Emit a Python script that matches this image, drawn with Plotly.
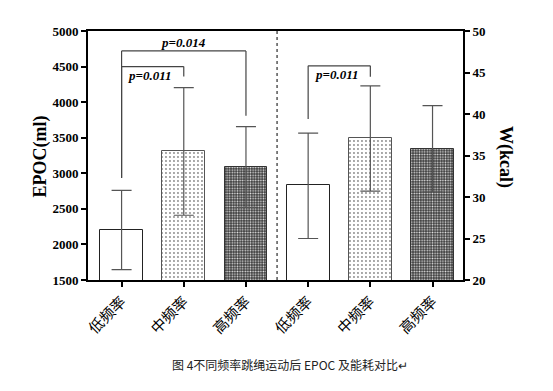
import plotly.graph_objects as go

# ---- data ----
categories = ["低频率", "中频率", "高频率", "低频率", "中频率", "高频率"]
epoc_mean = [2200, 3310, 3085]
epoc_err_up = [560, 895, 570]
epoc_err_down = [555, 900, 565]
w_mean = [31.4, 37.1, 35.8]
w_err_up = [6.3, 6.3, 5.2]
w_err_down = [6.4, 6.4, 5.2]
left_ticks = [1500, 2000, 2500, 3000, 3500, 4000, 4500, 5000]
right_ticks = [20, 25, 30, 35, 40, 45, 50]

# significance brackets: (x_left, x_right, y_left_end, y_top, y_right_end, label, axis)
brackets = [
    (0, 1, 2935, 4500, 4360, "p=0.011", "y"),
    (0, 2, 2935, 4720, 3810, "p=0.014", "y"),
    (3, 4, 39.4, 45.8, 44.5, "p=0.011", "y2"),
]

SERIF = "Liberation Serif"
CJK = "Noto Sans CJK SC"

styles = [
    dict(shape="", fg="#000", bg="#ffffff", line="#222", size=4, sol=0.3),
    dict(shape=".", fg="#8a8a8a", bg="#ffffff", line="#555", size=4, sol=0.18),
    dict(shape=".", fg="#e0e0e0", bg="#3a3a3a", line="#333", size=2.6, sol=0.35),
]

fig = go.Figure()
for i in range(3):
    st = styles[i]
    fig.add_trace(go.Bar(
        x=[i], y=[epoc_mean[i]], yaxis="y", width=0.69,
        marker=dict(color="white", line=dict(color=st["line"], width=1),
                    pattern=dict(shape=st["shape"], fgcolor=st["fg"], bgcolor=st["bg"],
                                 size=st["size"], solidity=st["sol"], fillmode="replace")),
        error_y=dict(type="data", array=[epoc_err_up[i]], arrayminus=[epoc_err_down[i]],
                     color="#555", thickness=1.2, width=10),
        showlegend=False))
for i in range(3):
    st = styles[i]
    fig.add_trace(go.Bar(
        x=[i + 3], y=[w_mean[i]], yaxis="y2", width=0.69,
        marker=dict(color="white", line=dict(color=st["line"], width=1),
                    pattern=dict(shape=st["shape"], fgcolor=st["fg"], bgcolor=st["bg"],
                                 size=st["size"], solidity=st["sol"], fillmode="replace")),
        error_y=dict(type="data", array=[w_err_up[i]], arrayminus=[w_err_down[i]],
                     color="#555", thickness=1.2, width=10),
        showlegend=False))

shapes = [dict(type="line", xref="x", yref="paper", x0=2.5, x1=2.5, y0=0, y1=1,
               line=dict(color="black", width=1, dash="dot"))]
annotations = []
for xl, xr, yl, yt, yr, lab, ax in brackets:
    lc = dict(color="#444", width=1.2)
    shapes.append(dict(type="line", xref="x", yref=ax, x0=xl, x1=xl, y0=yl, y1=yt, line=lc))
    shapes.append(dict(type="line", xref="x", yref=ax, x0=xl, x1=xr, y0=yt, y1=yt, line=lc))
    shapes.append(dict(type="line", xref="x", yref=ax, x0=xr, x1=xr, y0=yt, y1=yr, line=lc))
    if lab == "p=0.014":
        annotations.append(dict(x=(xl + xr) / 2, y=yt, xref="x", yref=ax, text="<i><b>" + lab + "</b></i>",
                                showarrow=False, yanchor="bottom", yshift=-1,
                                font=dict(family=SERIF, size=13, color="black")))
    else:
        annotations.append(dict(x=(xl + xr) / 2 - 0.05, y=yt, xref="x", yref=ax, text="<i><b>" + lab + "</b></i>",
                                showarrow=False, yanchor="top", yshift=1,
                                font=dict(family=SERIF, size=13, color="black")))

annotations += [
    dict(x=-0.16, y=0.494, xref="paper", yref="paper", text="<b>EPOC(ml)</b>", textangle=-90,
         showarrow=False, font=dict(family=SERIF, size=18, color="black")),
    dict(x=1.145, y=0.494, xref="paper", yref="paper", text="<b>W(kcal)</b>", textangle=90,
         showarrow=False, font=dict(family=SERIF, size=18, color="black")),
    dict(x=0.539, y=-0.3815, xref="paper", yref="paper",
         text="图 4不同频率跳绳运动后 EPOC 及能耗对比\u21b5", showarrow=False,
         font=dict(family=CJK, size=12, color="#222")),
]

fig.update_layout(
    width=553, height=391,
    margin=dict(l=80, r=98, t=23, b=119),
    paper_bgcolor="white", plot_bgcolor="white",
    barmode="overlay", bargap=0,
    xaxis=dict(range=[-0.54, 5.49], tickmode="array", tickvals=list(range(6)), ticktext=categories,
               tickangle=-45, showline=True, linecolor="black", linewidth=2, mirror=True,
               ticks="outside", ticklen=5, tickwidth=2, tickcolor="black", showgrid=False,
               zeroline=False, tickfont=dict(family=CJK, size=15, color="black")),
    yaxis=dict(range=[1500, 5000], tickmode="array", tickvals=left_ticks,
               ticktext=["<b>%d</b>" % t for t in left_ticks], showline=True,
               linecolor="black", linewidth=2, ticks="outside", ticklen=5, tickwidth=2,
               tickcolor="black", showgrid=False, zeroline=False,
               tickfont=dict(family=SERIF, size=13, color="black")),
    yaxis2=dict(range=[20, 50], tickmode="array", tickvals=right_ticks,
                ticktext=["<b>%d</b>" % t for t in right_ticks], overlaying="y",
                side="right", showline=True, linecolor="black", linewidth=2, ticks="outside",
                ticklen=5, tickwidth=2, tickcolor="black", showgrid=False, zeroline=False,
                tickfont=dict(family=SERIF, size=13, color="black")),
    shapes=shapes, annotations=annotations,
)

fig.write_html("out.html")
